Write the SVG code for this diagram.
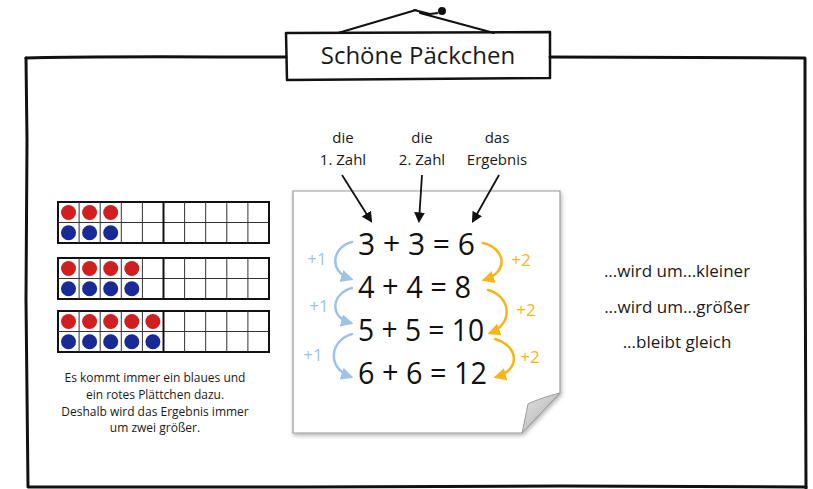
<svg xmlns="http://www.w3.org/2000/svg" width="813" height="489" viewBox="0 0 813 489">
<defs>
<style>
.t{font-family:"Open Sans","Noto Sans","Liberation Sans",sans-serif;fill:#1a1a1a;text-anchor:middle}
.sk{fill:none;stroke:#111;stroke-width:3;stroke-linecap:round;stroke-linejoin:round}
.cell{fill:none;stroke:#333;stroke-width:1}
.fr{fill:none;stroke:#111;stroke-width:2}
.r{fill:#d11f1f}
.b{fill:#172a96}
.bl{fill:none;stroke:#9fc3e7;stroke-width:2.5;stroke-linecap:round}
.or{fill:none;stroke:#f8b616;stroke-width:2.5;stroke-linecap:round}
.eq{font-family:"Open Sans","Noto Sans","Liberation Sans",sans-serif;font-size:31px;fill:#111}
.pl{font-family:"Open Sans","Noto Sans","Liberation Sans",sans-serif;font-size:17px;text-anchor:middle}
</style>
<marker id="ab" viewBox="0 0 10 10" refX="8" refY="5" markerWidth="5" markerHeight="5" orient="auto"><path d="M0,0 L10,5 L0,10 z" fill="#9fc3e7"/></marker>
<marker id="ao" viewBox="0 0 10 10" refX="8" refY="5" markerWidth="5" markerHeight="5" orient="auto"><path d="M0,0 L10,5 L0,10 z" fill="#f8b616"/></marker>
<marker id="ak" viewBox="0 0 10 10" refX="8" refY="5" markerWidth="6" markerHeight="6" orient="auto"><path d="M0,0 L10,5 L0,10 z" fill="#111"/></marker>
<filter id="sh" x="-10%" y="-10%" width="120%" height="120%"><feDropShadow dx="1" dy="2" stdDeviation="2" flood-color="#000" flood-opacity="0.3"/></filter>
<linearGradient id="fold" x1="0" y1="0" x2="1" y2="1"><stop offset="0" stop-color="#e6e6e6"/><stop offset="1" stop-color="#a8a8a8"/></linearGradient>
</defs>

<g id="frame">
<path class="sk" d="M26,58 L27,140 L26,300 L28,487 L300,487 L560,486 L806,487"/>
<path class="sk" d="M26,58 C80,56 200,57 286,57"/>
<path class="sk" d="M550,57 C650,58 740,57 805,58 L805,200 L806,489"/>
</g>

<g id="title">
<path class="sk" style="stroke-width:2" d="M338,33 L416,10 M420,13 L494,33 M414,10 L430,14"/>
<circle cx="442" cy="11" r="4" fill="#111"/>
<path d="M438,13 L430,14" stroke="#111" stroke-width="2"/>
<path class="sk" style="stroke-width:2.5" d="M286,33 L550,32 L550,78 L287,80 Z"/>
<text class="t" x="418" y="64" font-size="24">Schöne Päckchen</text>
</g>

<g id="tenframes">
<g id="tf1" transform="translate(58,202)">
<rect class="fr" x="0" y="0" width="211" height="41"/>
<path class="cell" d="M21.1,0V41M42.2,0V41M63.3,0V41M84.4,0V41M126.6,0V41M147.7,0V41M168.8,0V41M189.9,0V41M0,20.5H211"/>
<path d="M105.5,0V41" stroke="#111" stroke-width="2"/>
<circle class="r" cx="10.5" cy="10.5" r="7.5"/><circle class="r" cx="31.6" cy="10.5" r="7.5"/><circle class="r" cx="52.7" cy="10.5" r="7.5"/>
<circle class="b" cx="10.5" cy="30.8" r="7.5"/><circle class="b" cx="31.6" cy="30.8" r="7.5"/><circle class="b" cx="52.7" cy="30.8" r="7.5"/>
</g>
<g id="tf2" transform="translate(58,258)">
<rect class="fr" x="0" y="0" width="211" height="41"/>
<path class="cell" d="M21.1,0V41M42.2,0V41M63.3,0V41M84.4,0V41M126.6,0V41M147.7,0V41M168.8,0V41M189.9,0V41M0,20.5H211"/>
<path d="M105.5,0V41" stroke="#111" stroke-width="2"/>
<circle class="r" cx="10.5" cy="10.5" r="7.5"/><circle class="r" cx="31.6" cy="10.5" r="7.5"/><circle class="r" cx="52.7" cy="10.5" r="7.5"/><circle class="r" cx="73.8" cy="10.5" r="7.5"/>
<circle class="b" cx="10.5" cy="30.8" r="7.5"/><circle class="b" cx="31.6" cy="30.8" r="7.5"/><circle class="b" cx="52.7" cy="30.8" r="7.5"/><circle class="b" cx="73.8" cy="30.8" r="7.5"/>
</g>
<g id="tf3" transform="translate(58,311)">
<rect class="fr" x="0" y="0" width="211" height="41"/>
<path class="cell" d="M21.1,0V41M42.2,0V41M63.3,0V41M84.4,0V41M126.6,0V41M147.7,0V41M168.8,0V41M189.9,0V41M0,20.5H211"/>
<path d="M105.5,0V41" stroke="#111" stroke-width="2"/>
<circle class="r" cx="10.5" cy="10.5" r="7.5"/><circle class="r" cx="31.6" cy="10.5" r="7.5"/><circle class="r" cx="52.7" cy="10.5" r="7.5"/><circle class="r" cx="73.8" cy="10.5" r="7.5"/><circle class="r" cx="94.9" cy="10.5" r="7.5"/>
<circle class="b" cx="10.5" cy="30.8" r="7.5"/><circle class="b" cx="31.6" cy="30.8" r="7.5"/><circle class="b" cx="52.7" cy="30.8" r="7.5"/><circle class="b" cx="73.8" cy="30.8" r="7.5"/><circle class="b" cx="94.9" cy="30.8" r="7.5"/>
</g>
</g>

<g id="explanation">
<text class="t" font-size="12" x="155" y="382">Es kommt immer ein blaues und</text>
<text class="t" font-size="12" x="155" y="399">ein rotes Plättchen dazu.</text>
<text class="t" font-size="12" x="155" y="416">Deshalb wird das Ergebnis immer</text>
<text class="t" font-size="12" x="155" y="432">um zwei größer.</text>
</g>

<g id="paper">
<path d="M293,191 L560,191 L560,393 L522,433 L293,433 Z" fill="#fff" stroke="#9a9a9a" stroke-width="1.2" filter="url(#sh)"/>
<path d="M560,393 C548,396 536,400 528,404 C526,414 524,424 522,433 Z" fill="url(#fold)" stroke="#9a9a9a" stroke-width="1"/>
</g>

<g id="equations">
<text class="eq" x="358" y="255" textLength="117" lengthAdjust="spacingAndGlyphs">3 + 3 = 6</text>
<text class="eq" x="358" y="298" textLength="113" lengthAdjust="spacingAndGlyphs">4 + 4 = 8</text>
<text class="eq" x="358" y="341" textLength="126" lengthAdjust="spacingAndGlyphs">5 + 5 = 10</text>
<text class="eq" x="358" y="384" textLength="129" lengthAdjust="spacingAndGlyphs">6 + 6 = 12</text>
</g>

<g id="labels">
<text class="t" font-size="15" x="343" y="143">die</text>
<text class="t" font-size="15" x="343" y="165">1. Zahl</text>
<text class="t" font-size="15" x="422" y="143">die</text>
<text class="t" font-size="15" x="422" y="165">2. Zahl</text>
<text class="t" font-size="15" x="497" y="143">das</text>
<text class="t" font-size="15" x="497" y="165">Ergebnis</text>
</g>

<g id="statements">
<text class="t" font-size="17" x="677" y="277">...wird um...kleiner</text>
<text class="t" font-size="17" x="677" y="313">...wird um...größer</text>
<text class="t" font-size="17" x="677" y="348">...bleibt gleich</text>
</g>

<g id="connectors">
<path d="M342,175 L371,221" stroke="#111" stroke-width="1.8" marker-end="url(#ak)"/>
<path d="M422,175 L419,221" stroke="#111" stroke-width="1.8" marker-end="url(#ak)"/>
<path d="M499,175 L473,221" stroke="#111" stroke-width="1.8" marker-end="url(#ak)"/>
<path class="bl" d="M352,242 C332,247 328,272 351,279" marker-end="url(#ab)"/>
<path class="bl" d="M352,288 C332,293 328,317 351,323" marker-end="url(#ab)"/>
<path class="bl" d="M352,334 C330,340 326,368 351,377" marker-end="url(#ab)"/>
<path class="or" d="M483,243 C505,248 510,272 484,280" marker-end="url(#ao)"/>
<path class="or" d="M488,290 C511,296 514,324 490,333" marker-end="url(#ao)"/>
<path class="or" d="M495,339 C519,346 521,370 496,377" marker-end="url(#ao)"/>
<text class="pl" x="317" y="265" fill="#9fc3e7">+1</text>
<text class="pl" x="319" y="312" fill="#9fc3e7">+1</text>
<text class="pl" x="313" y="361" fill="#9fc3e7">+1</text>
<text class="pl" x="521" y="266" fill="#f8b616">+2</text>
<text class="pl" x="526" y="316" fill="#f8b616">+2</text>
<text class="pl" x="530" y="363" fill="#f8b616">+2</text>
</g>
</svg>
